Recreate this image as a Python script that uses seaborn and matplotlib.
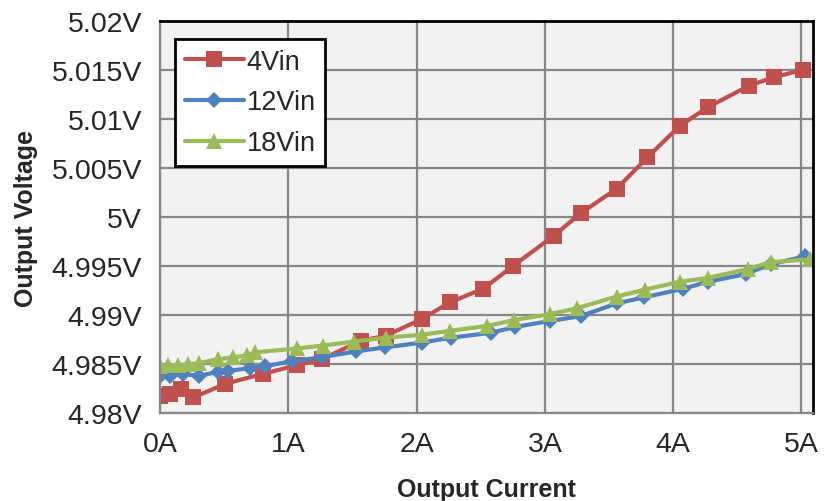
import matplotlib
matplotlib.use("Agg")
import matplotlib.pyplot as plt
import pandas as pd
import seaborn as sns

# 4Vin input
i_4v = [0.0, 0.08, 0.16, 0.26, 0.51, 0.80, 1.07, 1.26, 1.57, 1.76, 2.04, 2.26,
        2.52, 2.75, 3.07, 3.28, 3.56, 3.80, 4.05, 4.27, 4.59, 4.79, 5.01]
v_4v = [4.9818, 4.9820, 4.9825, 4.9816, 4.9830, 4.9840, 4.9849, 4.9855, 4.9874,
        4.9879, 4.9896, 4.9913, 4.9927, 4.9950, 4.9981, 5.0004, 5.0029, 5.0061,
        5.0093, 5.0112, 5.0134, 5.0143, 5.0150]

# 12Vin input
i_12v = [0.0, 0.08, 0.18, 0.30, 0.45, 0.53, 0.70, 0.82, 1.03, 1.26, 1.53, 1.75,
         2.04, 2.27, 2.58, 2.77, 3.04, 3.28, 3.56, 3.77, 4.08, 4.27, 4.57, 4.76, 5.03]
v_12v = [4.9838, 4.9838, 4.9840, 4.9838, 4.9842, 4.9843, 4.9846, 4.9848, 4.9853,
         4.9857, 4.9863, 4.9867, 4.9872, 4.9877, 4.9882, 4.9888, 4.9894, 4.9899,
         4.9912, 4.9918, 4.9927, 4.9934, 4.9942, 4.9952, 4.9960]

# 18Vin input
i_18v = [0.0, 0.06, 0.14, 0.22, 0.30, 0.45, 0.57, 0.68, 0.74, 1.07, 1.27, 1.51,
         1.76, 2.04, 2.26, 2.55, 2.76, 3.04, 3.25, 3.56, 3.78, 4.05, 4.27, 4.58,
         4.76, 5.07]
v_18v = [4.9848, 4.9849, 4.9849, 4.9850, 4.9851, 4.9855, 4.9857, 4.9859, 4.9862,
         4.9866, 4.9869, 4.9873, 4.9877, 4.9880, 4.9884, 4.9889, 4.9895, 4.9901,
         4.9907, 4.9919, 4.9926, 4.9934, 4.9938, 4.9947, 4.9954, 4.9957]

x_ticks = [0, 1, 2, 3, 4, 5]
y_ticks = [4.98, 4.985, 4.99, 4.995, 5.0, 5.005, 5.01, 5.015, 5.02]
y_labels = ["4.98V", "4.985V", "4.99V", "4.995V", "5V", "5.005V", "5.01V", "5.015V", "5.02V"]

df = pd.concat([
    pd.DataFrame({"I": i_4v, "V": v_4v, "Input": "4Vin"}),
    pd.DataFrame({"I": i_12v, "V": v_12v, "Input": "12Vin"}),
    pd.DataFrame({"I": i_18v, "V": v_18v, "Input": "18Vin"}),
])

sns.set_style("white")
plt.rcParams["font.family"] = ["Liberation Sans", "DejaVu Sans"]

fig = plt.figure(figsize=(8.27, 5.02), dpi=100)
ax = fig.add_axes([0.1935, 0.175, 0.7895, 0.781])
ax.set_facecolor("#F2F2F2")

palette = {"4Vin": "#C0504D", "12Vin": "#4F81BD", "18Vin": "#9BBB59"}
markers = {"4Vin": "s", "12Vin": "D", "18Vin": "^"}
msize = {"4Vin": 11, "12Vin": 8.5, "18Vin": 11}

for name in ["4Vin", "12Vin", "18Vin"]:
    sub = df[df["Input"] == name]
    sns.lineplot(data=sub, x="I", y="V", ax=ax, color=palette[name],
                 marker=markers[name], markersize=msize[name],
                 markeredgewidth=0, linewidth=3, label=name, sort=False,
                 estimator=None)

ax.set_xlim(0, 5.09)
ax.set_ylim(4.98, 5.02)
ax.set_xticks(x_ticks)
ax.set_xticklabels([f"{t}A" for t in x_ticks])
ax.set_yticks(y_ticks)
ax.set_yticklabels(y_labels)
ax.grid(True, color="#878787", linewidth=1.6)
ax.set_axisbelow(True)

for side in ["left", "bottom"]:
    ax.spines[side].set_color("#878787")
    ax.spines[side].set_linewidth(1.6)
for side in ["top", "right"]:
    ax.spines[side].set_color("black")
    ax.spines[side].set_linewidth(2)

ax.tick_params(axis="both", direction="out", length=8, width=1.6,
               color="#878787", labelsize=20.5, pad=5)
ax.set_xlabel("Output Current", fontsize=18, fontweight="bold", labelpad=14)
ax.set_ylabel("Output Voltage", fontsize=18, fontweight="bold", labelpad=10)

leg = ax.legend(loc="upper left", bbox_to_anchor=(0.023, 0.954), fontsize=19.5,
                frameon=True, fancybox=False, handlelength=2.2,
                handletextpad=0.1, borderpad=0.35, labelspacing=0.55,
                borderaxespad=0)
leg.get_frame().set_edgecolor("black")
leg.get_frame().set_linewidth(2)
leg.get_frame().set_facecolor("white")
leg.get_frame().set_alpha(1)

fig.savefig("out.png", dpi=100)
